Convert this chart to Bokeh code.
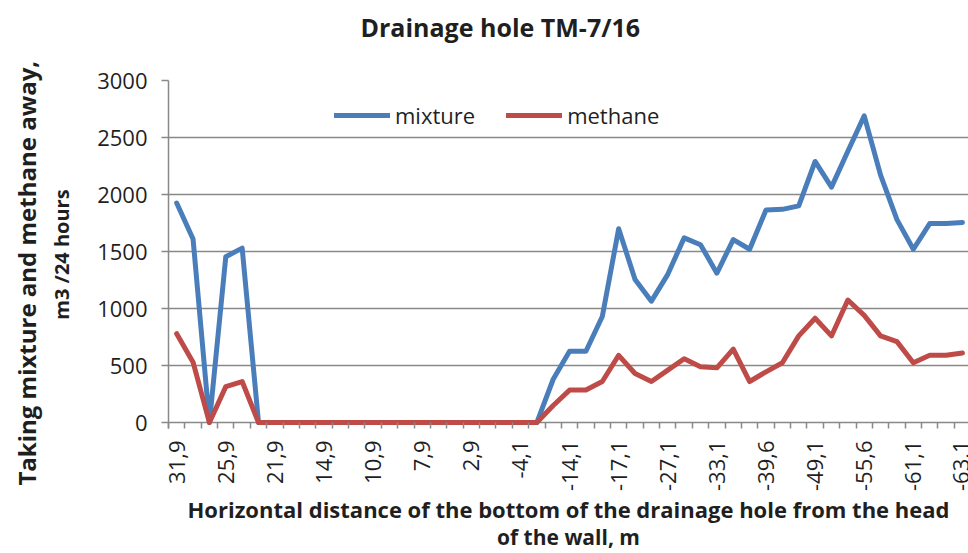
import math
from bokeh.plotting import figure
from bokeh.models import Range1d, FixedTicker, Legend, LegendItem, LinearAxis
from bokeh.embed import file_html
from bokeh.resources import INLINE

# ---- data ----
x_labels = ["31,9", "25,9", "21,9", "14,9", "10,9", "7,9", "2,9", "-4,1",
            "-14,1", "-17,1", "-27,1", "-33,1", "-39,6", "-49,1", "-55,6",
            "-61,1", "-63,1"]
label_step = 3

mixture = [1925, 1610, 0, 1455, 1530,
           0, 0, 0, 0, 0, 0, 0, 0, 0, 0, 0, 0, 0, 0, 0, 0, 0, 0,
           380, 625, 625, 930, 1700, 1255, 1065, 1300, 1620, 1560, 1310,
           1605, 1520, 1865, 1870, 1900, 2290, 2065, 2380, 2690, 2170,
           1780, 1520, 1745, 1745, 1755]
methane = [780, 530, 0, 315, 360,
           0, 0, 0, 0, 0, 0, 0, 0, 0, 0, 0, 0, 0, 0, 0, 0, 0, 0,
           150, 285, 285, 360, 590, 430, 360, 460, 560, 490, 480,
           645, 360, 445, 525, 760, 915, 760, 1075, 940, 760,
           710, 525, 590, 590, 610]
y_ticks = [0, 500, 1000, 1500, 2000, 2500, 3000]

n = len(mixture)
xs = list(range(n))
label_pos = [i * label_step for i in range(len(x_labels))]
boundaries = [i - 0.5 for i in range(n + 1)]

FONT = "Open Sans"
GRID = "#898989"
TEXT = "#1f1f1f"
NB = "\u00a0"

p = figure(width=968, height=553,
           x_range=Range1d(-0.5, 48.37), y_range=Range1d(-52, 3000),
           output_backend="svg", toolbar_location=None,
           min_border_left=168, min_border_right=0,
           min_border_top=80, min_border_bottom=123)
p.outline_line_color = None
p.background_fill_color = "white"
p.border_fill_color = "white"

# grid
p.xgrid.visible = False
p.ygrid.ticker = FixedTicker(ticks=y_ticks)
p.ygrid.grid_line_color = GRID
p.ygrid.grid_line_width = 1.5

# y axis (inner: ticks + second title line)
p.yaxis.ticker = FixedTicker(ticks=y_ticks)
p.yaxis.axis_line_color = GRID
p.yaxis.axis_line_width = 1.5
p.yaxis.major_tick_line_color = GRID
p.yaxis.major_tick_line_width = 1.5
p.yaxis.major_tick_out = 7
p.yaxis.major_tick_in = 0
p.yaxis.minor_tick_line_color = None
p.yaxis.major_label_text_font = FONT
p.yaxis.major_label_text_font_size = "22px"
p.yaxis.major_label_text_color = TEXT
p.yaxis.major_label_standoff = 14
p.yaxis.axis_label = "m3 /24 hours"
p.yaxis.axis_label_text_font = FONT
p.yaxis.axis_label_text_font_style = "bold"
p.yaxis.axis_label_text_font_size = "20px"
p.yaxis.axis_label_text_color = TEXT
p.yaxis.axis_label_standoff = 19

# outer y axis carrying the first title line only
y_outer = LinearAxis(ticker=FixedTicker(ticks=[]),
                     axis_label="Taking mixture and methane away," + NB * 6,
                     axis_line_color=None, major_tick_line_color=None,
                     minor_tick_line_color=None, major_tick_out=0,
                     minor_tick_out=0, major_label_standoff=0,
                     axis_label_text_font=FONT,
                     axis_label_text_font_style="bold",
                     axis_label_text_font_size="24px",
                     axis_label_text_color=TEXT,
                     axis_label_standoff=3)
p.add_layout(y_outer, "left")

# x axis: category boundary ticks hang below the zero line inside the frame
p.xaxis.ticker = FixedTicker(ticks=label_pos, minor_ticks=boundaries)
p.xaxis.major_label_overrides = {pos: lab for pos, lab in zip(label_pos, x_labels)}
p.xaxis.axis_line_color = None
p.xaxis.major_tick_line_color = None
p.xaxis.major_tick_out = 0
p.xaxis.major_tick_in = 0
p.xaxis.minor_tick_line_color = GRID
p.xaxis.minor_tick_line_width = 1.5
p.xaxis.minor_tick_out = 0
p.xaxis.minor_tick_in = 6
p.xaxis.major_label_orientation = math.pi / 2
p.xaxis.major_label_text_font = FONT
p.xaxis.major_label_text_font_size = "22px"
p.xaxis.major_label_text_color = TEXT
p.xaxis.major_label_standoff = 12
p.xaxis.axis_label = "Horizontal distance of the bottom of the drainage hole from the head"
p.xaxis.axis_label_text_font = FONT
p.xaxis.axis_label_text_font_style = "bold"
p.xaxis.axis_label_text_font_size = "22px"
p.xaxis.axis_label_text_color = TEXT
p.xaxis.axis_label_standoff = 0

x_outer = LinearAxis(ticker=FixedTicker(ticks=[]),
                     axis_label="of the wall, m",
                     axis_line_color=None, major_tick_line_color=None,
                     minor_tick_line_color=None, major_tick_out=0,
                     minor_tick_out=0, major_label_standoff=0,
                     axis_label_text_font=FONT,
                     axis_label_text_font_style="bold",
                     axis_label_text_font_size="21px",
                     axis_label_text_color=TEXT,
                     axis_label_standoff=-5)
p.add_layout(x_outer, "below")

# chart title, carried by an empty axis above the frame
p.title.text = ""
t_axis = LinearAxis(ticker=FixedTicker(ticks=[]),
                    axis_label="Drainage hole TM-7/16" + NB * 21,
                    axis_line_color=None, major_tick_line_color=None,
                    minor_tick_line_color=None, major_tick_out=0,
                    minor_tick_out=0, major_label_standoff=0,
                    axis_label_text_font=FONT,
                    axis_label_text_font_style="bold",
                    axis_label_text_font_size="25px",
                    axis_label_text_color=TEXT,
                    axis_label_standoff=37)
p.add_layout(t_axis, "above")

# lines
r1 = p.line(xs, mixture, line_color="#4A7EBB", line_width=5,
            line_join="round", line_cap="round")
r2 = p.line(xs, methane, line_color="#BE4B48", line_width=5,
            line_join="round", line_cap="round")

legend = Legend(items=[LegendItem(label="mixture", renderers=[r1]),
                       LegendItem(label="methane", renderers=[r2])],
                orientation="horizontal", location=(166, 298),
                border_line_color=None, background_fill_alpha=0,
                glyph_width=56, glyph_height=20, label_height=20,
                label_text_font=FONT, label_text_font_size="22px",
                label_text_color=TEXT, label_standoff=5, spacing=31,
                padding=0, margin=0)
p.add_layout(legend)

open("out.html", "w").write(file_html(p, INLINE))
